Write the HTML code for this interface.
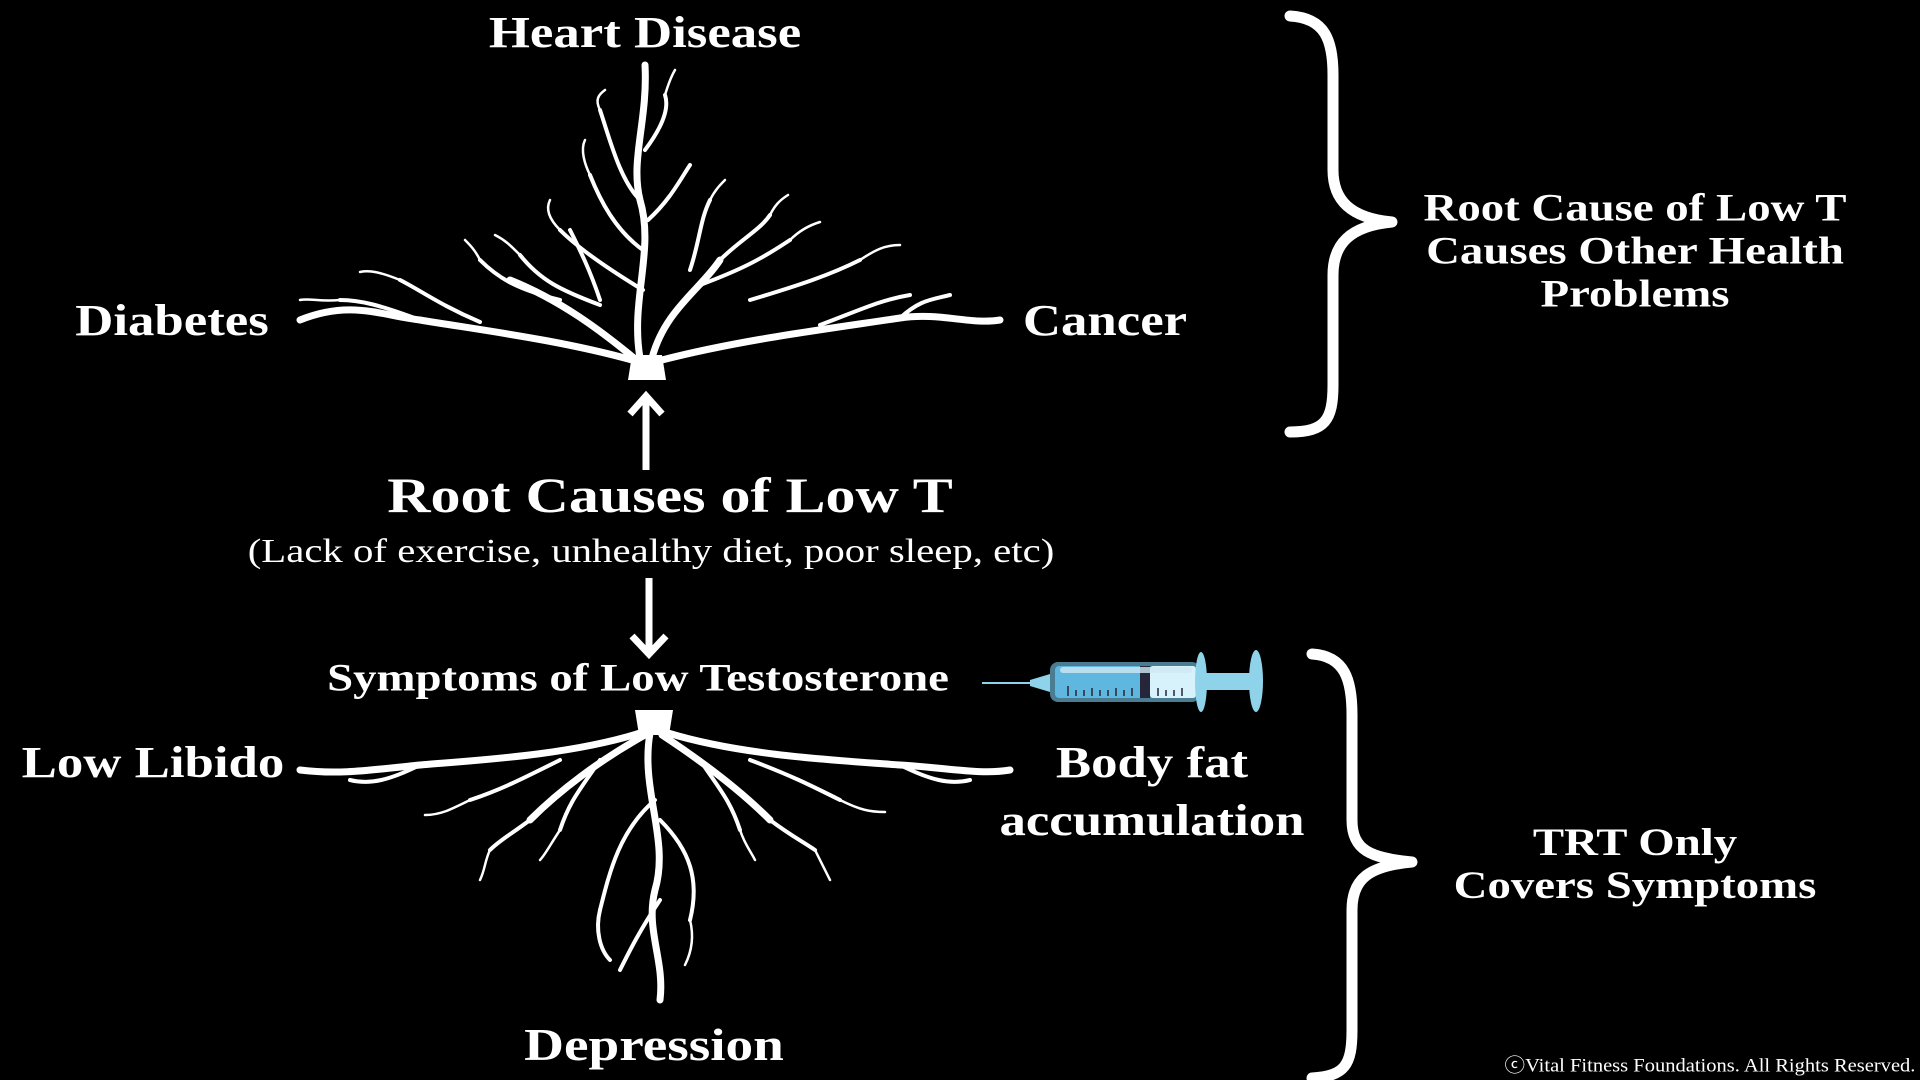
<!DOCTYPE html>
<html><head><meta charset="utf-8"><style>
html,body{margin:0;padding:0;background:#000;}
body{width:1920px;height:1080px;position:relative;overflow:hidden;font-family:"Liberation Serif",serif;color:#fff;}
.t{position:absolute;white-space:nowrap;font-weight:bold;transform:translate(-50%,-50%) scaleX(1.2);line-height:1;}
svg{position:absolute;left:0;top:0;}
</style></head><body>
<svg width="1920" height="1080" viewBox="0 0 1920 1080">
<g fill="none" stroke="#fff" stroke-linecap="round" stroke-linejoin="round">
<polygon points="628,380 666,380 662,355 632,355" fill="#fff" stroke="none"/>
<g stroke-width="7">
<path d="M640,358 C630,300 655,250 640,200 C630,160 648,120 645,65"/>
<path d="M652,358 C665,310 700,290 720,260"/>
<path d="M634,358 C600,330 560,300 510,280"/>
<path d="M632,360 C560,340 480,330 420,320 C380,315 350,300 300,320"/>
<path d="M662,360 C740,340 820,330 900,318 C940,312 970,325 1000,320"/>
</g>
<g stroke-width="4">
<path d="M643,250 C615,230 600,200 590,175"/>
<path d="M640,200 C620,180 610,140 600,110"/>
<path d="M645,150 C660,130 670,110 665,95"/>
<path d="M648,220 C670,200 680,180 690,165"/>
<path d="M643,290 C610,270 580,250 560,230"/>
<path d="M600,305 C560,290 540,280 520,255"/>
<path d="M560,300 C520,290 500,280 480,260"/>
<path d="M700,285 C740,270 760,260 790,240"/>
<path d="M720,260 C740,240 760,230 770,215"/>
<path d="M750,300 C800,285 830,275 860,260"/>
<path d="M480,322 C440,305 420,290 400,280"/>
<path d="M820,325 C860,310 880,300 910,295"/>
<path d="M420,320 C380,305 360,300 340,300"/>
<path d="M900,318 C920,300 930,300 950,295"/>
<path d="M690,270 C700,240 700,220 710,200"/>
<path d="M600,300 C590,270 580,250 570,230"/>
</g>
<g stroke-width="2.5">
<path d="M590,175 C585,165 580,150 585,140"/>
<path d="M600,110 C595,100 598,95 605,90"/>
<path d="M560,230 C550,220 545,210 550,200"/>
<path d="M520,255 C510,245 505,240 495,235"/>
<path d="M790,240 C800,230 810,225 820,222"/>
<path d="M860,260 C875,250 885,245 900,245"/>
<path d="M400,280 C380,272 370,270 360,272"/>
<path d="M340,300 C320,302 310,298 300,300"/>
<path d="M665,95 C668,85 672,75 675,70"/>
<path d="M770,215 C775,205 780,200 788,195"/>
<path d="M480,260 C475,250 470,245 465,240"/>
<path d="M710,200 C715,190 720,185 725,180"/>
</g>
<polygon points="635,710 673,710 669,735 639,735" fill="#fff" stroke="none"/>
<g stroke-width="7">
<path d="M650,733 C640,790 670,840 655,890 C645,930 665,960 660,1000"/>
<path d="M640,733 C570,755 480,760 420,765 C370,770 340,775 300,770"/>
<path d="M668,733 C740,755 830,760 900,765 C950,768 980,775 1010,770"/>
<path d="M645,735 C600,760 560,790 530,820"/>
<path d="M662,735 C700,760 740,790 770,820"/>
</g>
<g stroke-width="4">
<path d="M655,800 C620,830 610,870 600,910"/>
<path d="M660,820 C690,850 700,880 690,920"/>
<path d="M530,820 C510,835 500,840 490,850"/>
<path d="M770,820 C790,835 800,840 815,850"/>
<path d="M560,760 C520,780 500,790 470,800"/>
<path d="M750,760 C790,775 810,785 840,800"/>
<path d="M600,760 C580,790 570,800 560,830"/>
<path d="M700,760 C720,790 730,800 740,830"/>
<path d="M420,765 C390,780 370,785 350,780"/>
<path d="M900,765 C930,780 950,785 970,780"/>
<path d="M660,900 C640,930 630,950 620,970"/>
<path d="M600,910 C595,930 600,950 610,960"/>
</g>
<g stroke-width="2.5">
<path d="M490,850 C485,860 485,870 480,880"/>
<path d="M815,850 C820,860 825,870 830,880"/>
<path d="M470,800 C450,810 440,815 425,815"/>
<path d="M840,800 C860,810 870,812 885,812"/>
<path d="M690,920 C695,940 690,955 685,965"/>
<path d="M560,830 C550,845 545,855 540,860"/>
<path d="M740,830 C745,845 750,850 755,860"/>
</g>
<g stroke-width="7" stroke-linecap="butt" stroke-linejoin="miter">
<path d="M646,470 L646,396"/>
<path d="M630,414 L646,396 L662,414"/>
<path d="M649,578 L649,652"/>
<path d="M632,636 L649,654 L666,636"/>
</g>
<g stroke-width="11">
<path d="M1290,16 C1325,18 1333,40 1333,75 L1333,170 C1333,200 1350,218 1392,222 C1350,226 1333,244 1333,275 L1333,385 C1333,420 1325,432 1290,432"/>
<path d="M1312,654 C1345,656 1352,680 1352,715 L1352,820 C1352,850 1370,858 1412,862 C1370,866 1352,878 1352,910 L1352,1030 C1352,1065 1345,1076 1312,1078"/>
</g>
</g>
<line x1="982" y1="683" x2="1035" y2="683" stroke="#8fd3ea" stroke-width="2"/>
<polygon points="1030,680 1050,674 1050,692 1030,686" fill="#8fd3ea"/>
<rect x="1050" y="662" width="150" height="40" rx="8" fill="#4a7d91"/>
<rect x="1055" y="666" width="90" height="32" rx="4" fill="#5fb6de"/>
<rect x="1150" y="666" width="46" height="32" rx="3" fill="#d8f2fb"/>
<rect x="1140" y="666" width="10" height="32" fill="#26263a"/>
<rect x="1060" y="667" width="132" height="6" rx="3" fill="#cfe9f4" opacity="0.8"/>
<g stroke="#26263a" stroke-width="1.5">
<line x1="1068" y1="686" x2="1068" y2="696"/><line x1="1076" y1="690" x2="1076" y2="696"/><line x1="1084" y1="690" x2="1084" y2="696"/><line x1="1092" y1="688" x2="1092" y2="696"/><line x1="1100" y1="690" x2="1100" y2="696"/><line x1="1108" y1="690" x2="1108" y2="696"/><line x1="1116" y1="688" x2="1116" y2="696"/><line x1="1124" y1="690" x2="1124" y2="696"/><line x1="1132" y1="688" x2="1132" y2="696"/><line x1="1158" y1="688" x2="1158" y2="696"/><line x1="1166" y1="690" x2="1166" y2="696"/><line x1="1174" y1="690" x2="1174" y2="696"/><line x1="1182" y1="688" x2="1182" y2="696"/>
</g>
<ellipse cx="1201" cy="682" rx="6" ry="30" fill="#8fd3ea"/>
<rect x="1205" y="673" width="48" height="17" fill="#8fd3ea"/>
<ellipse cx="1256" cy="681" rx="7" ry="31" fill="#8fd3ea"/>
</svg>
<div class="t" style="left:645px;top:33px;font-size:44px;">Heart Disease</div>
<div class="t" style="left:172px;top:321px;font-size:44px;">Diabetes</div>
<div class="t" style="left:1105px;top:321px;font-size:44px;">Cancer</div>
<div class="t" style="left:1635px;top:251px;font-size:39px;text-align:center;line-height:43px;">Root Cause of Low T<br>Causes Other Health<br>Problems</div>
<div class="t" style="left:670px;top:495px;font-size:50px;">Root Causes of Low T</div>
<div class="t" style="left:651px;top:552px;font-size:34px;font-weight:normal;">(Lack of exercise, unhealthy diet, poor sleep, etc)</div>
<div class="t" style="left:638px;top:678px;font-size:39px;">Symptoms of Low Testosterone</div>
<div class="t" style="left:153px;top:763px;font-size:44px;">Low Libido</div>
<div class="t" style="left:1152px;top:792px;font-size:44px;text-align:center;line-height:58px;">Body fat<br>accumulation</div>
<div class="t" style="left:654px;top:1045px;font-size:46px;">Depression</div>
<div class="t" style="left:1635px;top:864px;font-size:39px;text-align:center;line-height:43px;">TRT Only<br>Covers Symptoms</div>
<div class="t" style="left:1710px;top:1066px;font-size:19px;font-weight:normal;transform:translate(-50%,-50%) scaleX(1.08);">ⓒVital Fitness Foundations. All Rights Reserved.</div>
</body></html>
